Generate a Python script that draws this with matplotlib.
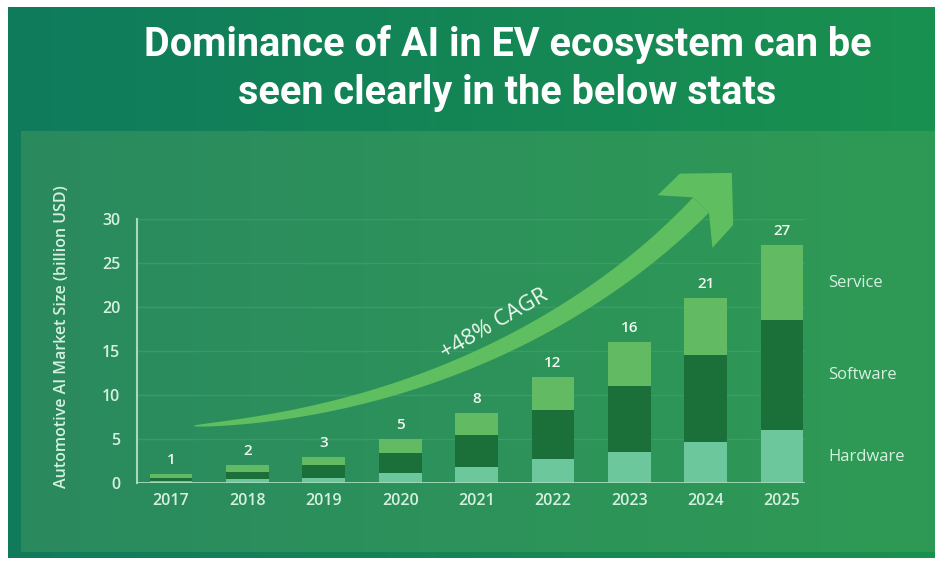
import numpy as np
import matplotlib
matplotlib.use("Agg")
import matplotlib.pyplot as plt
from matplotlib.colors import to_rgb
from matplotlib.patches import Polygon

# data (billion USD)
years = ["2017", "2018", "2019", "2020", "2021", "2022", "2023", "2024", "2025"]
hardware = [0.2, 0.5, 0.6, 1.1, 1.8, 2.7, 3.5, 4.7, 6.0]
software = [0.4, 0.8, 1.4, 2.3, 3.7, 5.6, 7.5, 9.8, 12.5]
service = [0.4, 0.7, 1.0, 1.6, 2.5, 3.7, 5.0, 6.5, 8.5]
totals = [1, 2, 3, 5, 8, 12, 16, 21, 27]
segment_names = ["Hardware", "Software", "Service"]
y_ticks = [0, 5, 10, 15, 20, 25, 30]

W, H = 935, 562
colors = {"Hardware": "#6cc79c", "Software": "#1b6f38", "Service": "#62bb62"}
txt_col = "#d6f0e0"
arrow_col = "#5fbe5f"


def gradient(ax, extent, c1, c2):
    a, b = np.array(to_rgb(c1)), np.array(to_rgb(c2))
    t = np.linspace(0, 1, 256)[:, None]
    img = (a * (1 - t) + b * t)[None, :, :]
    ax.imshow(img, extent=extent, aspect="auto", interpolation="bilinear", zorder=0)


def bezier(p, t):
    t = t[:, None]
    return ((1 - t) ** 3 * p[0] + 3 * (1 - t) ** 2 * t * p[1]
            + 3 * (1 - t) * t ** 2 * p[2] + t ** 3 * p[3])


def draw_arrow(ax):
    # tapered curved band + chevron head, in pixel coords (y down)
    p = np.array([[193, 426], [440, 410], [610, 300], [701, 205]], float)
    t = np.linspace(0, 1, 200)
    pts = bezier(p, t)
    tan = np.gradient(pts, axis=0)
    tan /= np.linalg.norm(tan, axis=1)[:, None]
    nrm = np.stack([tan[:, 1], -tan[:, 0]], axis=1)
    w = 22 * np.sqrt(t)
    left = pts + nrm * (w / 2)[:, None]
    right = pts - nrm * (w / 2)[:, None]
    ax.add_patch(Polygon(np.vstack([left, right[::-1]]), closed=True,
                         fc=arrow_col, ec="none", zorder=3))

    d = tan[-1]
    n = nrm[-1]
    base = pts[-1] - 23 * d
    local = [(23, 11), (0, 38), (31, 37), (67.5, 0), (31, -37), (0, -38), (23, -11)]
    head = [base + a * d + c * n for a, c in local]
    ax.add_patch(Polygon(head, closed=True, fc=arrow_col, ec="none", zorder=3))


fig = plt.figure(figsize=(W / 100, H / 100), dpi=100, facecolor="white")

# background panels
bg = fig.add_axes([0, 0, 1, 1], zorder=0)
bg.set_xlim(0, W)
bg.set_ylim(H, 0)
bg.axis("off")
gradient(bg, (8, W, 558, 7), "#0f7b5c", "#19914f")
gradient(bg, (21, W, 552, 131), "#2a8a5f", "#2f9a55")

# chart
ax = fig.add_axes([137 / W, (H - 483) / H, (805 - 137) / W, (483 - 219) / H], zorder=1)
ax.patch.set_alpha(0)
x = np.arange(len(years))
bottom = np.zeros(len(years))
for name, vals in zip(segment_names, [hardware, software, service]):
    ax.bar(x, vals, width=0.56, bottom=bottom, color=colors[name], zorder=2)
    bottom += np.array(vals)

for xi, tot in zip(x, totals):
    ax.annotate(str(tot), (xi, tot), xytext=(0, 5), textcoords="offset points",
                ha="center", va="bottom", color="#eef8f0", fontsize=11,
                family="Open Sans", fontweight="semibold")

# segment names next to the last bar
last = len(years) - 1
low = 0
for name, vals in zip(segment_names, [hardware, software, service]):
    ax.text(last + 0.6, low + vals[last] / 2, name, ha="left", va="center",
            color=txt_col, fontsize=12, family="Open Sans", clip_on=False)
    low += vals[last]

ax.set_xlim(-0.445, 8.30)
ax.set_ylim(0, 30)
ax.set_yticks(y_ticks)
ax.set_xticks(x, years)
for v in y_ticks[1:]:
    ax.axhline(v, color="#4aa47a", lw=1, alpha=0.5, zorder=1)
ax.axhline(0, color="#a6dcbc", lw=2, zorder=3)
for s in ["top", "right", "bottom"]:
    ax.spines[s].set_visible(False)
ax.spines["left"].set_color("#a6dcbc")
ax.spines["left"].set_linewidth(1.5)
ax.tick_params(length=0, colors=txt_col, labelsize=11.5)
ax.tick_params(axis="y", pad=12)
ax.tick_params(axis="x", pad=7)
for lab in ax.get_xticklabels() + ax.get_yticklabels():
    lab.set_family("Open Sans")
    lab.set_fontweight("semibold")
ax.set_ylabel("Automotive AI Market Size (billion USD)", color=txt_col,
              fontsize=11.5, family="Open Sans", fontweight="semibold")
ax.yaxis.set_label_coords(-0.1, 0.555)

# overlay: title, growth arrow
ov = fig.add_axes([0, 0, 1, 1], zorder=2)
ov.set_xlim(0, W)
ov.set_ylim(H, 0)
ov.axis("off")
ov.text(508, 45, "Dominance of AI in EV ecosystem can be", ha="center", va="center",
        color="white", fontsize=28.5, fontweight="bold", family="Roboto")
ov.text(507, 93, "seen clearly in the below stats", ha="center", va="center",
        color="white", fontsize=28.5, fontweight="bold", family="Roboto")
draw_arrow(ov)
ov.text(494, 324, "+48% CAGR", rotation=30, ha="center", va="center",
        rotation_mode="anchor", color="#eef8ee", fontsize=16, family="Open Sans")

fig.savefig("out.png", dpi=100, facecolor="white")
